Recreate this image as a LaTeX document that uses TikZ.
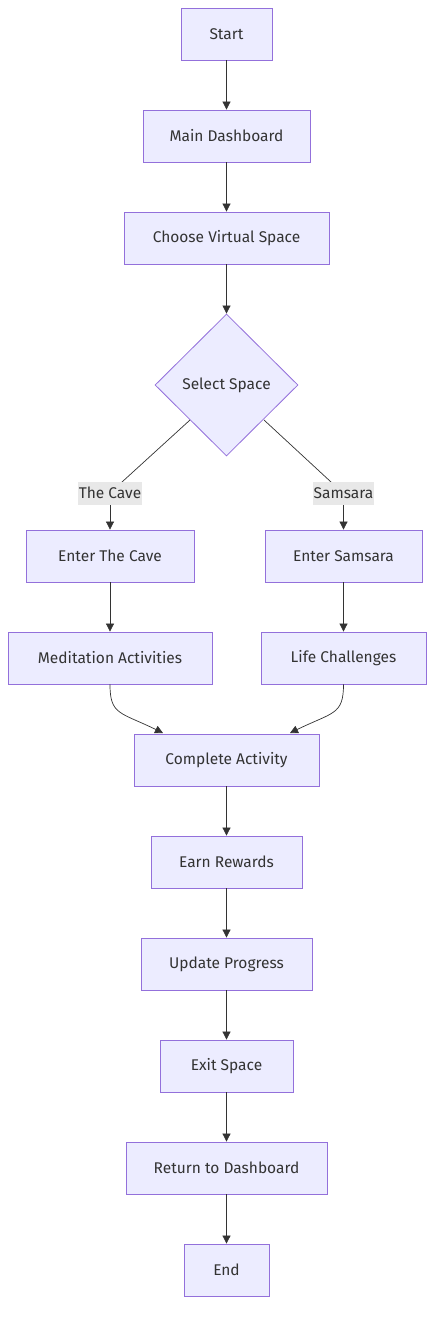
\documentclass[tikz,border=0pt]{standalone}
\usepackage{fontspec}
\setmainfont{Fira Sans}
\usetikzlibrary{shapes.geometric,arrows.meta}
\definecolor{nodefill}{HTML}{ECECFF}
\definecolor{nodeborder}{HTML}{9370DB}
\definecolor{edgecol}{HTML}{333333}
\definecolor{labelbg}{HTML}{E8E8E8}
\begin{document}
\begin{tikzpicture}[x=1pt,y=-1pt,
  txt/.style={font=\fontsize{15.5}{18}\selectfont,text=edgecol},
  box/.style={txt,draw=nodeborder,fill=nodefill,line width=0.8pt,minimum height=52pt,inner sep=0pt},
  dec/.style={txt,diamond,draw=nodeborder,fill=nodefill,line width=0.8pt,minimum width=143pt,minimum height=142pt,inner sep=0pt,aspect=1},
  elab/.style={txt,fill=labelbg,inner xsep=1pt,inner ysep=0pt,minimum height=23pt},
  edge/.style={draw=edgecol,line width=0.7pt,-{Triangle[length=8pt,width=8pt]}},
  seg/.style={draw=edgecol,line width=0.7pt}]
\useasboundingbox (0,0) rectangle (442,1329);
\node[box,minimum width=91pt] (start) at (226.5,34) {Start};
\node[box,minimum width=167pt] (dash) at (226.5,136) {Main Dashboard};
\node[box,minimum width=205pt] (choose) at (226.5,238) {Choose Virtual Space};
\node[dec] (sel) at (226.5,385) {Select Space};
\node[box,minimum width=168pt] (cave) at (110,556) {Enter The Cave};
\node[box,minimum width=157pt] (sams) at (343.5,556) {Enter Samsara};
\node[box,minimum width=204pt] (medi) at (110,658) {Meditation Activities};
\node[box,minimum width=165pt] (life) at (343.5,658) {Life Challenges};
\node[box,minimum width=185pt] (comp) at (226.5,760) {Complete Activity};
\node[box,minimum width=151pt] (earn) at (226.5,862) {Earn Rewards};
\node[box,minimum width=171pt] (upd) at (226.5,964) {Update Progress};
\node[box,minimum width=133pt] (exit) at (226.5,1066) {Exit Space};
\node[box,minimum width=201pt] (ret) at (226.5,1168) {Return to Dashboard};
\node[box,minimum width=85pt] (endn) at (226.5,1270) {End};
\coordinate (lk) at (110,495);
\coordinate (rk) at (343.5,495);
\path[edge] (start) -- (dash);
\path[edge] (dash) -- (choose);
\path[edge] (choose) -- (sel);
\path[seg] (190,420) -- (122,482) .. controls (112,491) and (110,493) .. (lk);
\path[edge] (lk) -- (cave);
\path[seg] (264,420) -- (331,482) .. controls (341,491) and (343.5,493) .. (rk);
\path[edge] (rk) -- (sams);
\node[elab] (lcave) at (110,493) {The Cave};
\node[elab] (lsams) at (343.5,493) {Samsara};
\path[edge] (cave) -- (medi);
\path[edge] (sams) -- (life);
\path[edge] (medi.south) .. controls (110,715) and (120,712) .. (163,733);
\path[edge] (life.south) .. controls (343.5,715) and (333,712) .. (290,733);
\path[edge] (comp) -- (earn);
\path[edge] (earn) -- (upd);
\path[edge] (upd) -- (exit);
\path[edge] (exit) -- (ret);
\path[edge] (ret) -- (endn);
\end{tikzpicture}
\end{document}
